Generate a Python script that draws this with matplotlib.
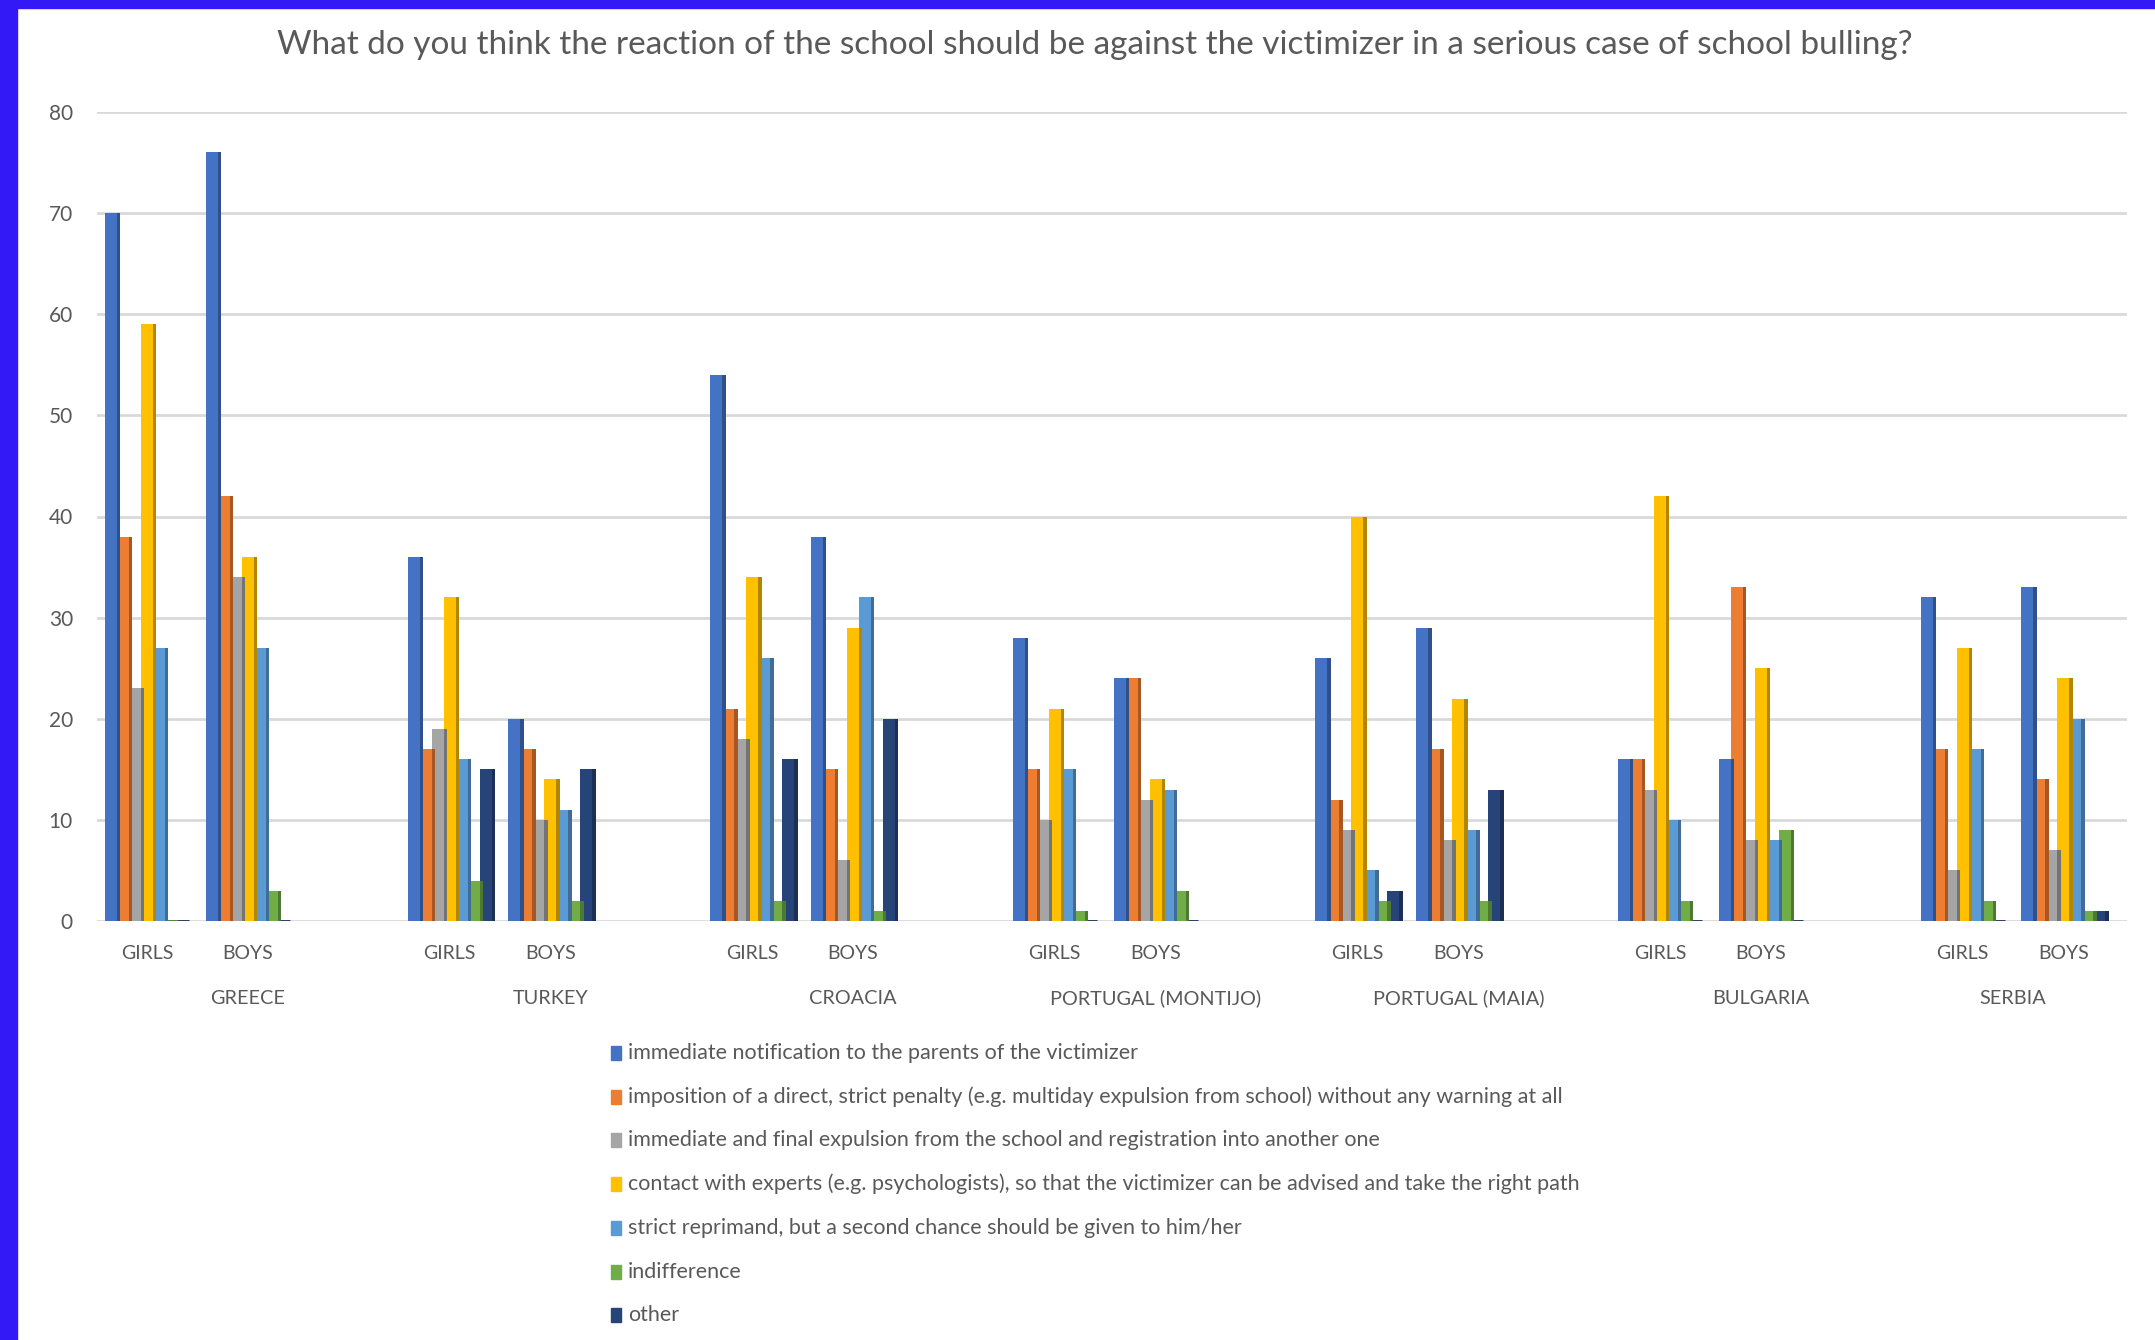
import numpy as np
import matplotlib
matplotlib.use("Agg")
import matplotlib.pyplot as plt
from matplotlib.patches import Rectangle
from matplotlib import colors as mcolors

plt.rcParams['font.family'] = ['Lato', 'DejaVu Sans']

TITLE = "What do you think the reaction of the school should be against the victimizer in a serious case of school bulling?"

countries = ["GREECE", "TURKEY", "CROACIA", "PORTUGAL (MONTIJO)", "PORTUGAL (MAIA)", "BULGARIA", "SERBIA"]
genders = ["GIRLS", "BOYS"]

series_names = [
    "immediate notification to the parents of the victimizer",
    "imposition of a direct, strict penalty (e.g. multiday expulsion from school) without any warning at all",
    "immediate and final expulsion from the school and registration into another one",
    "contact with experts (e.g. psychologists), so that the victimizer can be advised and take the right path",
    "strict reprimand, but a second chance should be given to him/her",
    "indifference",
    "other",
]

# order: greece girls, greece boys, turkey girls, turkey boys, ...
notify       = [70, 76, 36, 20, 54, 38, 28, 24, 26, 29, 16, 16, 32, 33]
penalty      = [38, 42, 17, 17, 21, 15, 15, 24, 12, 17, 16, 33, 17, 14]
expulsion    = [23, 34, 19, 10, 18, 6, 10, 12, 9, 8, 13, 8, 5, 7]
experts      = [59, 36, 32, 14, 34, 29, 21, 14, 40, 22, 42, 25, 27, 24]
reprimand    = [27, 27, 16, 11, 26, 32, 15, 13, 5, 9, 10, 8, 17, 20]
indifference = [0, 3, 4, 2, 2, 1, 1, 3, 2, 2, 2, 9, 2, 1]
other        = [0, 0, 15, 15, 16, 20, 0, 0, 3, 13, 0, 0, 0, 1]

series = [notify, penalty, expulsion, experts, reprimand, indifference, other]
bar_colors = ["#4472C4", "#ED7D31", "#A5A5A5", "#FFC000", "#5B9BD5", "#70AD47", "#264478"]

TXT = "#595959"
W, H = 2155, 1340

fig = plt.figure(figsize=(W / 100, H / 100), dpi=100)
fig.patch.set_facecolor("white")

# blue frame
fig.patches.append(Rectangle((0, 0), 17 / W, 1, transform=fig.transFigure, color="#3319F5", zorder=0))
fig.patches.append(Rectangle((0, 1 - 8 / H), 1, 8 / H, transform=fig.transFigure, color="#3319F5", zorder=0))

ax = fig.add_axes([96.6 / W, (H - 921) / H, (2127 - 96.6) / W, (921 - 112) / H])

# each country takes 3 slots (girls, boys, gap)
x = []
for i in range(len(countries)):
    x += [3 * i, 3 * i + 1]
x = np.array(x, dtype=float)

w = 0.119
for j, (vals, c) in enumerate(zip(series, bar_colors)):
    off = (j - 3) * w
    dark = tuple(np.array(mcolors.to_rgb(c)) * 0.7)
    bars = ax.bar(x + off, vals, width=w, color=c, zorder=3)
    ax.bar(x + off + w * 0.5, vals, width=w * 0.28, align='edge', color=dark, zorder=3.5)
    for p, v in zip(bars, vals):
        if v == 0:
            p.set_edgecolor(dark)
            p.set_linewidth(2)

ax.set_ylim(0, 80)
ax.set_xlim(-0.5, 19.63)
ax.set_yticks(range(0, 81, 10))
ax.yaxis.grid(True, color="#D9D9D9", linewidth=2)
ax.set_axisbelow(True)
for s in ax.spines.values():
    s.set_visible(False)

ax.set_xticks(x)
ax.set_xticklabels(genders * len(countries))
ax.tick_params(axis='x', length=0, pad=17, labelsize=14, labelcolor=TXT)
ax.tick_params(axis='y', length=0, pad=17, labelsize=15, labelcolor=TXT)

# country labels centred on their slots
for i, name in enumerate(countries):
    slots = [3 * i, 3 * i + 1] if i == len(countries) - 1 else [3 * i, 3 * i + 1, 3 * i + 2]
    ax.annotate(name, xy=(np.mean(slots), 0), xycoords=('data', 'axes fraction'),
                xytext=(0, -77 * 0.72), textcoords='offset points',
                ha='center', va='center', fontsize=14.3, color=TXT)

fig.text(1095 / W, 1 - 45 / H, TITLE, ha='center', va='center', fontsize=24, color=TXT)

# legend
y0, step = 1053, 43.7
for i, (name, c) in enumerate(zip(series_names, bar_colors)):
    yc = y0 + i * step
    fig.patches.append(Rectangle((611 / W, 1 - (yc + 7) / H), 10 / W, 14 / H,
                                 transform=fig.transFigure, color=c))
    fig.text(628 / W, 1 - yc / H, name, ha='left', va='center', fontsize=15.5, color=TXT)

fig.savefig("out.png", dpi=100)
